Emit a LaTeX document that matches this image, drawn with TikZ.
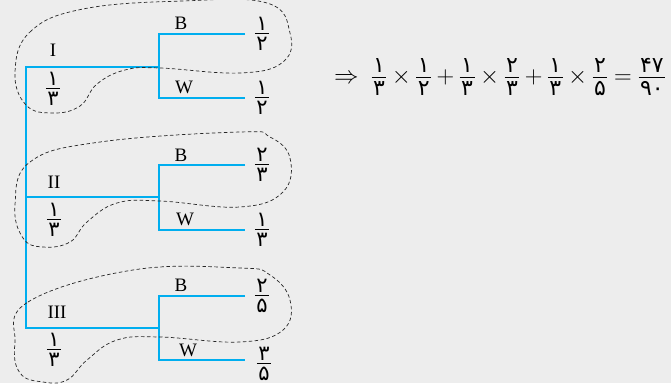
\RequirePackage{fix-cm}
\documentclass[tikz,border=0pt]{standalone}
\usepackage{fontspec}
\setmainfont{Liberation Serif}
\newfontfamily\pfont{DejaVu Sans}
\definecolor{bgc}{RGB}{237,237,237}
\definecolor{treeblue}{RGB}{0,174,239}
\newlength\pgapa \newlength\pgapb
\setlength\pgapa{3pt}\setlength\pgapb{3.5pt}
\newcommand\pfsz{\fontsize{21}{24}\selectfont}
\newcommand\pmf[2]{\vcenter{\offinterlineskip\halign{\hfil##\hfil\cr
  \kern1.5pt\pfsz\pfont #1\kern1.5pt\cr\noalign{\kern\pgapa\hrule height 0.6pt\kern\pgapb}
  \kern1.5pt\pfsz\pfont #2\kern1.5pt\cr}}}
\newcommand\pfr[2]{$\pmf{#1}{#2}$}
\begin{document}
\begin{tikzpicture}[x=1pt,y=-1pt,
  tree/.style={draw=treeblue,line width=1.8pt},
  loopline/.style={draw=black!85,line width=0.7pt,dash pattern=on 3.5pt off 2.5pt},
  lab/.style={font=\fontsize{19}{22}\selectfont,inner sep=0pt},
  fr/.style={font=\fontsize{21}{24}\selectfont,inner sep=0pt},
  eqn/.style={font=\fontsize{24.5}{28}\selectfont,inner sep=0pt}]
\fill[bgc] (0,0) rectangle (671,383);
\useasboundingbox (0,0) rectangle (671,383);
% coordinates
\coordinate (t1) at (26,67);  \coordinate (j1) at (159,67);
\coordinate (b1) at (159,34); \coordinate (w1) at (159,98);
\coordinate (be1) at (245,34); \coordinate (we1) at (245,98);
\coordinate (t2) at (26,197);  \coordinate (j2) at (159,197);
\coordinate (b2) at (159,165); \coordinate (w2) at (159,230);
\coordinate (be2) at (245,165); \coordinate (we2) at (245,230);
\coordinate (t3) at (26,328);  \coordinate (j3) at (159,328);
\coordinate (b3) at (159,296); \coordinate (w3) at (159,360);
\coordinate (be3) at (245,296); \coordinate (we3) at (245,360);
% tree
\draw[tree] (j1) -- (t1) -- (t3) -- (j3);
\draw[tree] (t2) -- (j2);
\draw[tree] (be1) -- (b1) -- (w1) -- (we1);
\draw[tree] (be2) -- (b2) -- (w2) -- (we2);
\draw[tree] (be3) -- (b3) -- (w3) -- (we3);
% labels
\node[lab] (n1) at (53,50) {I};
\node[lab] (n2) at (54,182) {II};
\node[lab] (n3) at (57,312) {III};
\node[lab] (lb1) at (181,23) {B};
\node[lab] (lw1) at (184,87) {W};
\node[lab] (lb2) at (181,155) {B};
\node[lab] (lw2) at (185,219) {W};
\node[lab] (lb3) at (181,285) {B};
\node[lab] (lw3) at (188,350) {W};
% fractions
\node[fr] (p1) at (53,89) {\pfr{۱}{۳}};
\node[fr] (p2) at (54,220) {\pfr{۱}{۳}};
\node[fr] (p3) at (54,350) {\pfr{۱}{۳}};
\node[fr] (q1b) at (262,34) {\pfr{۱}{۲}};
\node[fr] (q1w) at (262,98) {\pfr{۱}{۲}};
\node[fr] (q2b) at (262,165) {\pfr{۲}{۳}};
\node[fr] (q2w) at (262,230) {\pfr{۱}{۳}};
\node[fr] (q3b) at (262,296) {\pfr{۲}{۵}};
\node[fr] (q3w) at (264,364) {\pfr{۳}{۵}};
% loops
\draw[loopline] plot[smooth cycle, tension=0.7] coordinates {(15,72) (30,32) (83,9) (183,1) (267,3) (290,33) (283,62) (240,73) (160,68) (125,70) (97,84) (80,106) (53,113) (26,105)};
\draw[loopline] plot[smooth cycle, tension=0.7] coordinates {(15,205) (30,162) (100,142) (240,132) (270,137) (290,158) (283,192) (240,207) (160,201) (117,203) (87,222) (70,242) (43,247) (23,238)};
\draw[loopline] plot[smooth cycle, tension=0.7] coordinates {(15,343) (28,302) (133,270) (240,268) (270,275) (290,300) (283,330) (240,342) (160,337) (117,340) (87,360) (67,380) (43,382) (20,373)};
% equation
\node[eqn,anchor=west] (eq) at (334,77) {\renewcommand\pfsz{\fontsize{22}{25}\selectfont}\setlength\pgapa{4pt}\setlength\pgapb{3.5pt}$\Rightarrow\ \pmf{۱}{۳}\times\pmf{۱}{۲}+\pmf{۱}{۳}\times\pmf{۲}{۳}+\pmf{۱}{۳}\times\pmf{۲}{۵}=\pmf{۴۷}{۹۰}$};
\end{tikzpicture}
\end{document}
